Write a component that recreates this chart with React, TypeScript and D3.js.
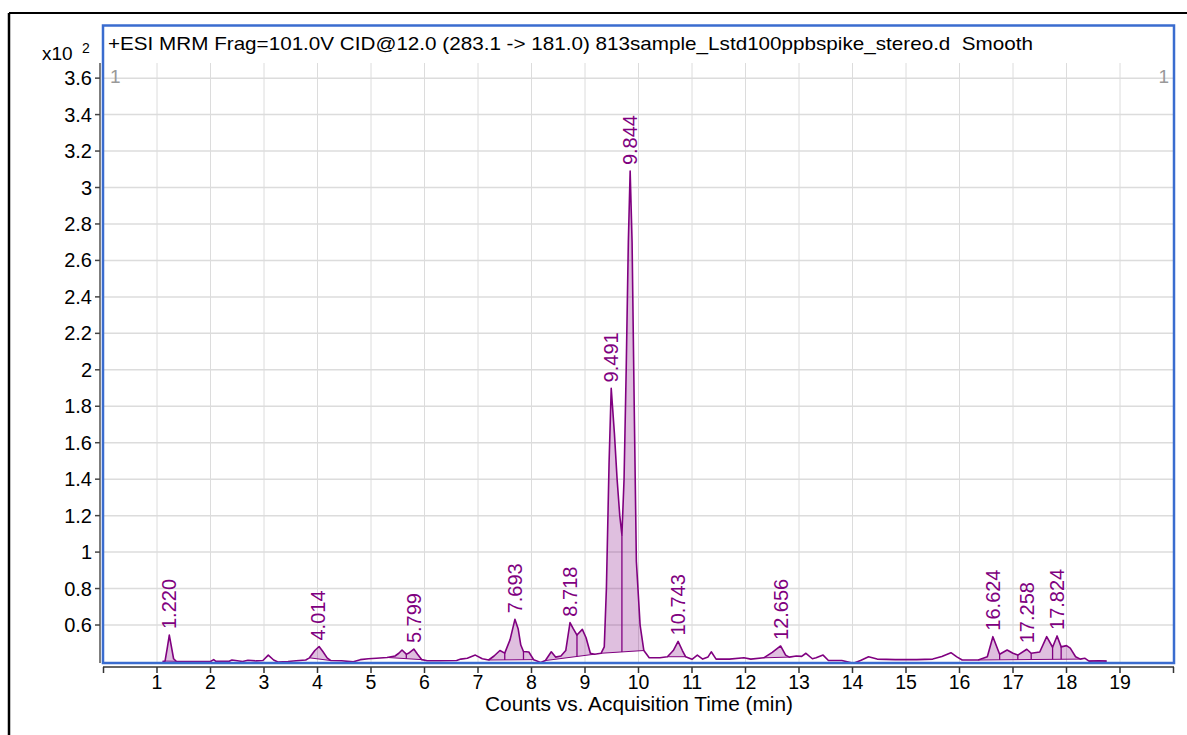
import React from "react";
import * as d3 from "d3";

const title = "+ESI MRM Frag=101.0V CID@12.0 (283.1 -> 181.0) 813sample_Lstd100ppbspike_stereo.d  Smooth";
const xLabel = "Counts vs. Acquisition Time (min)";
const xTicks = [1, 2, 3, 4, 5, 6, 7, 8, 9, 10, 11, 12, 13, 14, 15, 16, 17, 18, 19];
const yTicks = [0.6, 0.8, 1, 1.2, 1.4, 1.6, 1.8, 2, 2.2, 2.4, 2.6, 2.8, 3, 3.2, 3.4, 3.6];

// trace (min, counts x10^2)
const traceTime = [
  1.1, 1.15, 1.19, 1.23, 1.27, 1.31, 1.36, 1.6, 2.0, 2.06, 2.1, 2.35, 2.4, 2.5, 2.6, 2.7, 2.85, 2.98, 3.08, 3.18,
  3.26, 3.45, 3.6, 3.78, 3.85, 3.95, 4.03, 4.1, 4.18, 4.25, 4.45, 4.67, 4.8, 4.95, 5.1, 5.3, 5.45, 5.52, 5.58, 5.66,
  5.7, 5.8, 5.87, 5.95, 6.05, 6.3, 6.6, 6.68, 6.8, 6.95, 7.08, 7.2, 7.3, 7.41, 7.5, 7.6, 7.69, 7.75, 7.8, 7.85,
  7.95, 8.04, 8.17, 8.26, 8.37, 8.45, 8.55, 8.64, 8.72, 8.78, 8.85, 8.95, 9.02, 9.1, 9.18, 9.3, 9.36, 9.4, 9.45, 9.49,
  9.55, 9.6, 9.65, 9.69, 9.73, 9.77, 9.81, 9.844, 9.88, 9.92, 9.96, 10.03, 10.1, 10.2, 10.4, 10.54, 10.65, 10.74, 10.82, 10.88,
  11.0, 11.1, 11.2, 11.3, 11.36, 11.45, 11.7, 11.97, 12.1, 12.34, 12.5, 12.656, 12.75, 12.82, 12.95, 13.05, 13.13, 13.25, 13.32, 13.45,
  13.55, 13.8, 14.02, 14.15, 14.3, 14.46, 14.8, 15.2, 15.5, 15.67, 15.84, 15.95, 16.05, 16.35, 16.52, 16.624, 16.75, 16.89, 17.0, 17.09,
  17.258, 17.34, 17.5, 17.63, 17.74, 17.824, 17.9, 18.0, 18.07, 18.17, 18.26, 18.34, 18.42, 18.6, 18.75,
];
const traceCounts = [
  0.4, 0.402, 0.47, 0.545, 0.48, 0.415, 0.401, 0.4, 0.4, 0.41, 0.401, 0.401, 0.408, 0.404, 0.4, 0.407, 0.403, 0.405, 0.435, 0.408,
  0.397, 0.4, 0.404, 0.408, 0.42, 0.46, 0.482, 0.455, 0.42, 0.405, 0.404, 0.398, 0.41, 0.415, 0.418, 0.422, 0.43, 0.445, 0.463, 0.44,
  0.445, 0.468, 0.44, 0.41, 0.404, 0.404, 0.405, 0.413, 0.418, 0.435, 0.415, 0.408, 0.43, 0.46, 0.446, 0.52, 0.631, 0.58, 0.49, 0.455,
  0.452, 0.41, 0.395, 0.405, 0.453, 0.424, 0.43, 0.46, 0.613, 0.58, 0.545, 0.576, 0.53, 0.445, 0.44, 0.445, 0.48, 0.8, 1.49, 1.898,
  1.65, 1.4, 1.2, 1.094, 1.4, 2.0, 2.7, 3.09, 2.7, 1.8, 0.95, 0.6, 0.46, 0.42, 0.42, 0.426, 0.46, 0.51, 0.46, 0.426,
  0.412, 0.435, 0.413, 0.425, 0.453, 0.413, 0.413, 0.42, 0.413, 0.42, 0.45, 0.485, 0.435, 0.424, 0.43, 0.428, 0.445, 0.415, 0.42, 0.435,
  0.405, 0.405, 0.39, 0.405, 0.426, 0.413, 0.41, 0.41, 0.413, 0.427, 0.448, 0.425, 0.408, 0.408, 0.426, 0.536, 0.44, 0.463, 0.445, 0.435,
  0.467, 0.445, 0.452, 0.536, 0.478, 0.54, 0.48, 0.487, 0.473, 0.426, 0.413, 0.418, 0.402, 0.404, 0.402,
];

const peakLabels = ["1.220", "4.014", "5.799", "7.693", "8.718", "9.491", "9.844", "10.743", "12.656", "16.624", "17.258", "17.824"];

// integrated regions and their drop lines
const integStart = [1.15, 3.85, 5.3, 7.2, 8.26, 9.3, 10.54, 12.34, 16.35, 18.42];
const integEnd = [1.36, 4.25, 5.95, 8.04, 9.18, 10.1, 10.88, 12.82, 18.26, 18.75];
const dropTimes = [5.66, 7.5, 7.85, 8.85, 9.69, 16.75, 17.09, 17.34, 17.74, 17.9];

const FONT = "Liberation Sans, Arial, sans-serif";
const PURPLE = "#800080";

export default function App() {
  const x = d3.scaleLinear().domain([0, 20]).range([103.5, 1173.5]);
  const y = d3.scaleLinear().domain([0.3916, 3.683]).range([663, 63]);
  const pts: [number, number][] = traceTime.map((t, i) => [t, traceCounts[i]]);
  const valAt = (t: number) => {
    const i = d3.bisector((p: [number, number]) => p[0]).left(pts, t);
    if (i <= 0) return pts[0][1];
    if (i >= pts.length) return pts[pts.length - 1][1];
    const [t0, v0] = pts[i - 1];
    const [t1, v1] = pts[i];
    return v0 + ((v1 - v0) * (t - t0)) / (t1 - t0);
  };
  const line = d3.line<[number, number]>().x((d) => x(d[0])).y((d) => y(d[1]));

  const regions = integStart.map((s, k) => {
    const e = integEnd[k];
    const vs = valAt(s), ve = valAt(e);
    const base = (t: number) => vs + ((ve - vs) * (t - s)) / (e - s);
    const sub = pts.filter((p) => p[0] >= s - 1e-9 && p[0] <= e + 1e-9);
    const area = d3.area<[number, number]>().x((d) => x(d[0])).y0((d) => y(base(d[0]))).y1((d) => y(d[1]));
    return { s, e, vs, ve, path: area(sub) || "", base };
  });

  const drops = dropTimes.map((t) => {
    const r = regions.find((g) => t >= g.s && t <= g.e);
    return { t, b: r ? r.base(t) : 0.4, v: valAt(t) };
  });

  const labels = peakLabels.map((lab) => {
    const t = parseFloat(lab);
    const near = pts.filter((p) => Math.abs(p[0] - t) < 0.07);
    const v = d3.max(near, (p) => p[1]) ?? valAt(t);
    return { lab, t, v };
  });

  return (
    <svg width={1187} height={735} style={{ position: "absolute", left: 0, top: 0 }} fontFamily={FONT}>
      <rect x={0} y={0} width={1187} height={735} fill="#fff" />
      <line x1={9} y1={13} x2={1187} y2={13} stroke="#000" strokeWidth={2} />
      <line x1={9} y1={13} x2={9} y2={735} stroke="#000" strokeWidth={2.5} />

      {/* grid */}
      {xTicks.map((t) => (
        <line key={"gx" + t} x1={x(t)} x2={x(t)} y1={63} y2={663} stroke="#dcdcdc" strokeWidth={1} />
      ))}
      {yTicks.map((v) => (
        <line key={"gy" + v} x1={103} x2={1174} y1={y(v)} y2={y(v)} stroke="#dcdcdc" strokeWidth={1.5} />
      ))}

      {/* integrated areas */}
      {regions.map((r, k) => (
        <g key={"r" + k}>
          <path d={r.path} fill={PURPLE} fillOpacity={0.25} stroke="none" />
          <line x1={x(r.s)} y1={y(r.vs)} x2={x(r.e)} y2={y(r.ve)} stroke={PURPLE} strokeWidth={1} />
        </g>
      ))}
      {drops.map((d, k) => (
        <line key={"d" + k} x1={x(d.t)} x2={x(d.t)} y1={y(d.b)} y2={y(d.v)} stroke={PURPLE} strokeWidth={1.3} />
      ))}
      <path d={line(pts) || ""} fill="none" stroke={PURPLE} strokeWidth={1.6} strokeLinejoin="round" />

      {/* peak labels */}
      {labels.map((l) => (
        <text
          key={l.lab}
          transform={`translate(${x(l.t) + 7},${y(l.v) - 6}) rotate(-90)`}
          fontSize={20}
          fill={PURPLE}
        >
          {l.lab}
        </text>
      ))}

      {/* plot frame */}
      <rect x={103} y={25.5} width={1071} height={637.5} fill="none" stroke="#3a6ccf" strokeWidth={2.5} />
      <text x={108} y={50} fontSize={19} fill="#000" style={{ whiteSpace: "pre" }} textLength={925} lengthAdjust="spacingAndGlyphs">
        {title}
      </text>
      <text x={110} y={83} fontSize={19} fill="#999">1</text>
      <text x={1169} y={83} fontSize={19} fill="#999" textAnchor="end">1</text>

      {/* y axis */}
      <line x1={100} x2={100} y1={63} y2={663} stroke="#555" strokeWidth={1.5} />
      {yTicks.map((v) => (
        <g key={"yt" + v}>
          <line x1={95} x2={100} y1={y(v)} y2={y(v)} stroke="#444" strokeWidth={1.5} />
          <text x={92} y={y(v)} dy="0.35em" fontSize={20} textAnchor="end" fill="#000">
            {d3.format("~g")(v)}
          </text>
        </g>
      ))}
      <text x={42} y={60} fontSize={19} fill="#000">x10</text>
      <text x={82} y={53} fontSize={14} fill="#000">2</text>

      {/* x axis */}
      <line x1={103} x2={1174} y1={667} y2={667} stroke="#333" strokeWidth={1.5} />
      {[0, ...xTicks, 20].map((t) => (
        <line key={"xt" + t} x1={x(t)} x2={x(t)} y1={667} y2={673} stroke="#333" strokeWidth={1.5} />
      ))}
      {xTicks.map((t) => (
        <text key={"xl" + t} x={x(t)} y={689} fontSize={19.5} textAnchor="middle" fill="#000">
          {t}
        </text>
      ))}
      <text x={485} y={711} fontSize={19.5} fill="#000" textLength={308} lengthAdjust="spacingAndGlyphs">
        {xLabel}
      </text>
    </svg>
  );
}
